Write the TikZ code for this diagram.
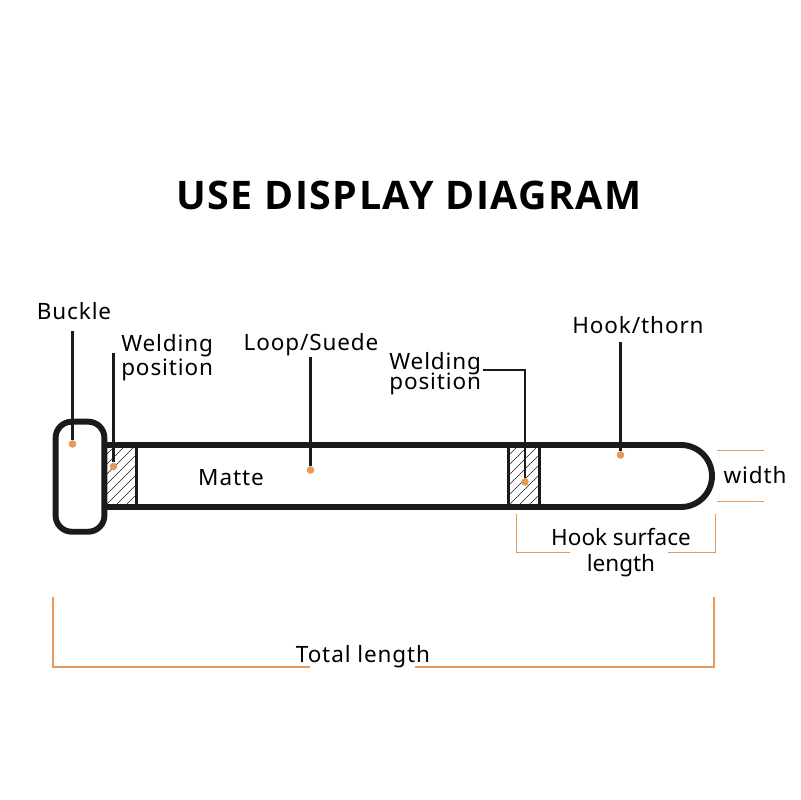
\documentclass[tikz,border=0pt]{standalone}
\usepackage{xcolor}
\usepackage{fontspec}
\setmainfont{Noto Sans}
\usetikzlibrary{positioning, calc}
\definecolor{strapblack}{HTML}{1a1a1a}
\definecolor{accent}{HTML}{E59A5A}
\newfontfamily\labelfont[LetterSpace=4]{Noto Sans}
\newfontfamily\surfacefont{Noto Sans}
\newfontfamily\titlefont[LetterSpace=3.8]{Open Sans}
\begin{document}
\begin{tikzpicture}[
  x=0.025cm, y=-0.025cm,
  outline/.style={draw=strapblack, line width=4.2pt},
  bar/.style={draw=strapblack, line width=2.4pt},
  hatch/.style={draw=strapblack, line width=0.45pt},
  leader/.style={draw=strapblack, line width=1.5pt},
  measure/.style={draw=accent, line width=1.2pt},
  tick/.style={draw=accent, line width=0.7pt},
  dot/.style={circle, fill=accent, inner sep=0pt, minimum size=5.4pt},
  lbl/.style={inner sep=0pt, text=black, align=left,
              font=\fontsize{16}{17}\selectfont\labelfont},
  surfacelbl/.style={lbl, align=center, font=\fontsize{16}{18.5}\selectfont\surfacefont}
]
\useasboundingbox (0,0) rectangle (800,800);

\node[inner sep=0pt, font=\fontsize{28}{32}\selectfont\titlefont\bfseries] (title) at (409,195) {USE DISPLAY DIAGRAM};

\foreach \hx/\hy in {107/135, 510/538} {
  \begin{scope}
    \clip (\hx,448) rectangle (\hy,504);
    \foreach \k in {0,10,...,80} {
      \draw[hatch] ({\hx+\k-50},504) -- ++(60,-60);
    }
  \end{scope}
}

\draw[outline] (107,445) coordinate (strapa) -- (681,445) arc[start angle=-90, end angle=90, radius=31] -- (107,507) coordinate (strapb);
\draw[bar] (136.5,445) -- (136.5,507);
\draw[bar] (508.5,445) -- (508.5,507);
\draw[bar] (539.5,445) -- (539.5,507);
\node[outline, rounded corners=11.5pt, fill=none, minimum width=1.22cm, minimum height=2.75cm, inner sep=0pt] (buckle) at (80,476.7) {};

\node[dot] (buckledot) at (72.5,444) {};
\node[dot] (weldadot) at (113.5,466.5) {};
\node[dot] (loopdot) at (310.5,470) {};
\node[dot] (welddot) at (525,482) {};
\node[dot] (hookdot) at (620.5,455) {};

\node[lbl] (bucklelbl) at (74,311) {Buckle};
\node[lbl, anchor=west] (weldalbl) at (121,358) {Welding\\position};
\node[lbl] (looplbl) at (311,345) {Loop/Suede};
\node[lbl, anchor=west] (weldlbl) at (389,374) {Welding\\[-2.8pt]position};
\node[lbl] (hooklbl) at (638,325) {Hook/thorn};
\node[lbl] (mattelbl) at (231,478) {Matte};
\node[lbl] (widthlbl) at (755,475) {width};
\node[surfacelbl] (surfacetxt) at (621,553) {Hook surface\\length};
\node[lbl] (totallbl) at (363,656.5) {Total length};

\coordinate (bucklefree) at (72.5,331);
\coordinate (weldafree) at (113.5,353);
\coordinate (loopfree) at (310.5,357);
\coordinate (weldfree) at (483,370);
\coordinate (hookfree) at (620.5,342);
\draw[leader] (bucklefree) -- (buckledot);
\draw[leader] (weldafree) -- (weldadot);
\draw[leader] (loopfree) -- (loopdot);
\draw[leader] (weldfree) -| (welddot);
\draw[leader] (hookfree) -- (hookdot);

\coordinate (wida) at (717,450);
\coordinate (widb) at (764,450);
\coordinate (widc) at (717,501);
\coordinate (widd) at (764,501);
\draw[tick] (wida) -- (widb);
\draw[tick] (widc) -- (widd);

\coordinate (surfa) at (516.5,514);
\coordinate (surfb) at (570,552.5);
\coordinate (surfc) at (715.5,514);
\coordinate (surfd) at (668,552.5);
\draw[tick] (surfa) |- (surfb);
\draw[tick] (surfc) |- (surfd);

\coordinate (tota) at (53,597);
\coordinate (totb) at (310,667);
\coordinate (totc) at (714,597);
\coordinate (totd) at (415,667);
\draw[measure] (tota) |- (totb);
\draw[measure] (totc) |- (totd);
\end{tikzpicture}
\end{document}
